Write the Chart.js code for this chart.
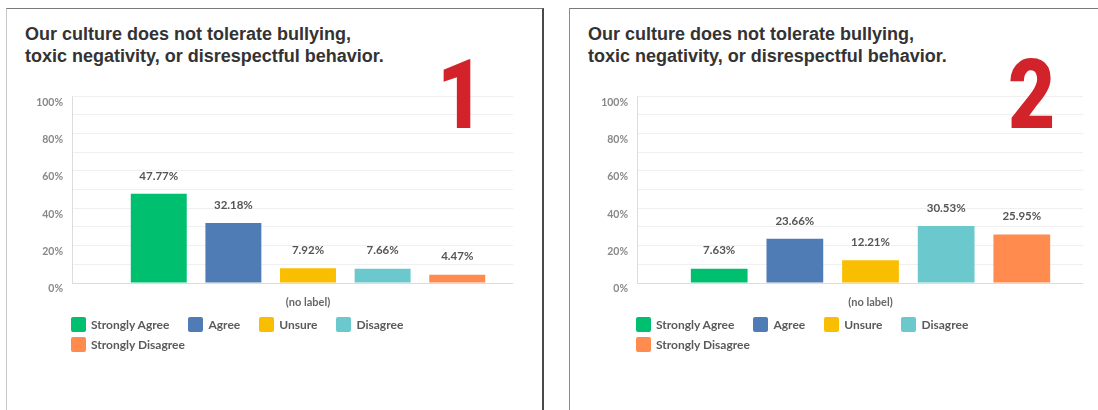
<!DOCTYPE html>
<html>
<head>
<meta charset="utf-8">
<script src="https://cdn.jsdelivr.net/npm/chart.js@4.4.0/dist/chart.umd.min.js"></script>
<style>
  body { margin: 0; width: 1098px; height: 410px; overflow: hidden; position: relative; background: #fff; }
  .panel { position: absolute; top: 8px; height: 430px; background: #fff; border-top: 1px solid #7a7a7a; }
  #p1 { left: 6px; width: 535px; border-left: 1px solid #c8c8c8; border-right: 2px solid #4a4a4a; }
  #p2 { left: 569px; width: 560px; border-left: 1px solid #8a8a8a; }
  .title { position: absolute; left: 18px; top: 14px; font-family: "Liberation Sans", Arial, sans-serif;
           font-weight: bold; font-size: 18px; line-height: 22px; color: #333; white-space: nowrap; }
  .big { position: absolute; top: 38px; z-index: 2; font-family: Roboto, "Liberation Sans", sans-serif;
         font-weight: 900; font-size: 96px; line-height: 96px; color: #d2232a;
         transform: scaleX(0.85); transform-origin: left top; }
  .chart { position: absolute; left: 20px; top: 72px; height: 240px; }
  .legend { position: absolute; top: 308px; width: 445px; display: flex; flex-wrap: wrap; row-gap: 5px;
            font-family: Lato, sans-serif; font-weight: bold; font-size: 12px; color: #5a5a5a; }
  .legend .item { display: flex; align-items: center; height: 15px; margin-right: 19px; }
  .legend .box { width: 15px; height: 15px; border-radius: 2px; margin-right: 5px; }
</style>
</head>
<body>
<div class="panel" id="p1">
  <div class="title">Our culture does not tolerate bullying,<br>toxic negativity, or disrespectful behavior.</div>
  <div class="big" style="left:430px">1</div>
  <div class="chart" style="width:490px"><canvas id="chart1"></canvas></div>
  <div class="legend" id="legend1" style="left:64px"></div>
</div>
<div class="panel" id="p2">
  <div class="title">Our culture does not tolerate bullying,<br>toxic negativity, or disrespectful behavior.</div>
  <div class="big" style="left:438px">2</div>
  <div class="chart" style="width:497px"><canvas id="chart2"></canvas></div>
  <div class="legend" id="legend2" style="left:66px"></div>
</div>
<script>
// data
const categories = ['(no label)'];
const seriesNames = ['Strongly Agree', 'Agree', 'Unsure', 'Disagree', 'Strongly Disagree'];
const seriesColors = ['#00bf6f', '#507cb6', '#f9be00', '#6bc8cd', '#ff8b4f'];
const chart1Values = [47.77, 32.18, 7.92, 7.66, 4.47];
const chart2Values = [7.63, 23.66, 12.21, 30.53, 25.95];
const yLabelStep = 20; // labels every 20%, grid every 10%

const axisColor = '#dcdcdc';
const gridColor = '#f0f0f0';

// percentage text above each bar
const valueLabels = {
    id: 'valueLabels',
    afterDatasetsDraw(chart) {
        const ctx = chart.ctx;
        ctx.save();
        ctx.font = 'bold 11.5px Lato';
        ctx.fillStyle = '#555';
        ctx.textAlign = 'center';
        ctx.textBaseline = 'middle';
        chart.data.datasets.forEach((ds, i) => {
            chart.getDatasetMeta(i).data.forEach((bar, j) => {
                ctx.fillText(ds.data[j].toFixed(2) + '%', bar.x, bar.y - 18);
            });
        });
        ctx.restore();
    }
};

// the vertical axis line sits at the outer end of the y ticks,
// so the bar group is centred a little right of the grid
const leftAxisLine = {
    id: 'leftAxisLine',
    beforeDatasetsDraw(chart) {
        const y = chart.scales.y;
        const x = Math.round(y.right - y.options.grid.tickLength) + 0.5;
        const ctx = chart.ctx;
        ctx.save();
        ctx.strokeStyle = axisColor;
        ctx.lineWidth = 1;
        ctx.beginPath();
        ctx.moveTo(x, chart.chartArea.top);
        ctx.lineTo(x, chart.chartArea.bottom);
        ctx.stroke();
        ctx.restore();
    }
};

function makeChart(id, values, yWidth, tickLen, catPct) {
    const ctx = document.getElementById(id).getContext('2d');
    return new Chart(ctx, {
        type: 'bar',
        data: {
            labels: categories,
            datasets: seriesNames.map((name, i) => ({
                label: name,
                data: [values[i]],
                backgroundColor: seriesColors[i],
                borderWidth: 0,
                barPercentage: 0.75,
                categoryPercentage: catPct
            }))
        },
        options: {
            responsive: true,
            maintainAspectRatio: false,
            animation: false,
            layout: { padding: { top: 12, right: 4, bottom: 0, left: 0 } },
            plugins: {
                legend: { display: false },
                tooltip: { enabled: false }
            },
            scales: {
                x: {
                    grid: { display: false, drawTicks: false },
                    border: { display: false },
                    ticks: { padding: 13, color: '#666', font: { family: 'Lato', weight: 'bold', size: 11 } },
                    afterFit(scale) { scale.height = 38; }
                },
                y: {
                    min: 0,
                    max: 100,
                    grid: {
                        color: (c) => (c.tick && c.tick.value === 0 ? axisColor : gridColor),
                        drawTicks: true,
                        tickLength: tickLen
                    },
                    border: { display: false },
                    ticks: {
                        stepSize: 10,
                        padding: 9,
                        labelOffset: 6,
                        color: '#888',
                        font: { family: 'Lato', weight: 'bold', size: 10.5 },
                        callback: (v) => (v % yLabelStep === 0 ? v + '%' : '')
                    },
                    afterFit(scale) { scale.width = yWidth + tickLen; }
                }
            }
        },
        plugins: [valueLabels, leftAxisLine]
    });
}

function makeLegend(id) {
    const el = document.getElementById(id);
    seriesNames.forEach((name, i) => {
        const item = document.createElement('div');
        item.className = 'item';
        const box = document.createElement('span');
        box.className = 'box';
        box.style.background = seriesColors[i];
        const txt = document.createElement('span');
        txt.textContent = name;
        item.appendChild(box);
        item.appendChild(txt);
        el.appendChild(item);
    });
}

makeChart('chart1', chart1Values, 45, 31, 0.91);
makeChart('chart2', chart2Values, 47, 21, 0.89);
makeLegend('legend1');
makeLegend('legend2');
</script>
</body>
</html>
